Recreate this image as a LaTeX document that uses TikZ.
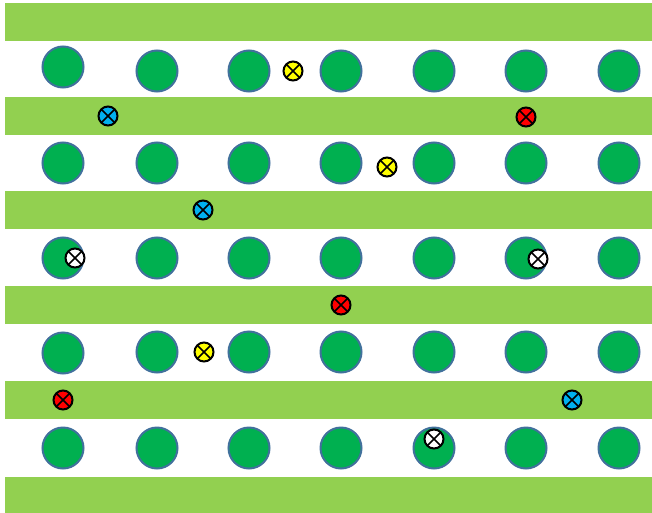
\documentclass[tikz,border=0pt]{standalone}
\definecolor{band}{HTML}{92D050}
\definecolor{dot}{HTML}{00B050}
\definecolor{dotedge}{HTML}{41719C}
\definecolor{mblue}{HTML}{00B0F0}
\definecolor{mred}{HTML}{FF0000}
\definecolor{myellow}{HTML}{FFFF00}
\tikzset{
  bandbox/.style={fill=band, draw=none},
  rod/.style={circle, fill=dot, draw=dotedge, line width=2pt, minimum size=41pt, inner sep=0pt},
  mk/.style={circle, draw=black, line width=2pt, minimum size=19pt, inner sep=0pt,
    path picture={\draw[black, line width=1.7pt]
      (path picture bounding box.north west) -- (path picture bounding box.south east)
      (path picture bounding box.north east) -- (path picture bounding box.south west);}},
}
\begin{document}
\begin{tikzpicture}[x=1pt,y=-1pt]
\useasboundingbox (0,0) rectangle (652,513);
\fill[white] (0,0) rectangle (652,513);
% bands
\foreach \a/\b [count=\i] in {3/41,97/135,191/229,286/324,381/419,477/513}
  \fill[bandbox] (5,\a) rectangle (652,\b);
% rods
\foreach \x [count=\j] in {157,249,341,434,526,619} \node[rod] (r1\j) at (\x,71) {};
\node[rod] (r10) at (63,67) {};
\foreach \x [count=\j] in {63,157,249,341,434,526,619} \node[rod] (r2\j) at (\x,163) {};
\foreach \x [count=\j] in {63,157,249,341,434,526,619} \node[rod] (r3\j) at (\x,258) {};
\node[rod] (r40) at (63,353) {};
\foreach \x [count=\j] in {157,249,341,434,526,619} \node[rod] (r4\j) at (\x,352) {};
\foreach \x [count=\j] in {63,157,249,341,434,526,619} \node[rod] (r5\j) at (\x,448) {};
% markers
\node[mk, fill=myellow] (y1) at (293,71) {};
\node[mk, fill=mblue] (b1) at (108,116) {};
\node[mk, fill=mred] (e1) at (526,117) {};
\node[mk, fill=myellow] (y2) at (387,167) {};
\node[mk, fill=mblue] (b2) at (203,210) {};
\node[mk, fill=white] (w1) at (75,258) {};
\node[mk, fill=white] (w2) at (538,259) {};
\node[mk, fill=mred] (e2) at (341,305) {};
\node[mk, fill=myellow] (y3) at (204,352) {};
\node[mk, fill=mred] (e3) at (63,400) {};
\node[mk, fill=mblue] (b3) at (572,400) {};
\node[mk, fill=white] (w3) at (434,439) {};
\end{tikzpicture}
\end{document}
